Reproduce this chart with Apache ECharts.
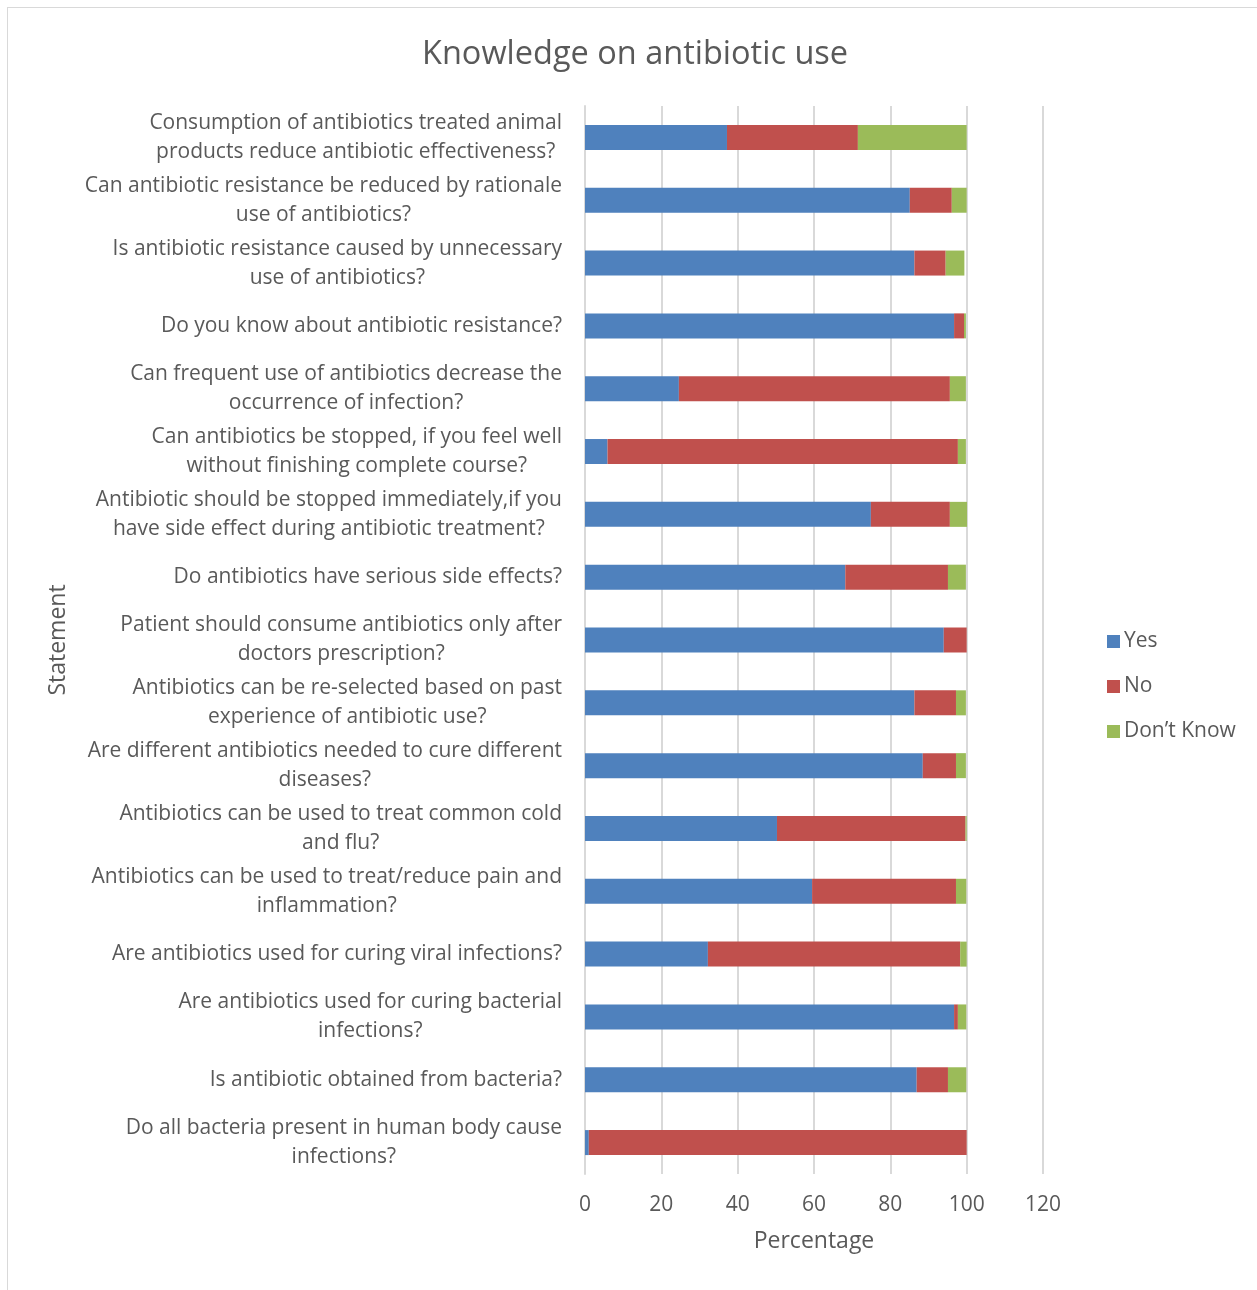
<!DOCTYPE html>
<html>
<head>
<meta charset="utf-8">
<script src="https://cdn.jsdelivr.net/npm/echarts@6/dist/echarts.min.js"></script>
<style>
  html, body { margin: 0; padding: 0; background: #fff; }
  #frame { position: absolute; left: 7px; top: 7px; width: 1260px; height: 1290px; border: 1px solid #d9d9d9; box-sizing: border-box; }
  #chart { position: absolute; left: 0; top: 0; width: 1257px; height: 1290px; }
</style>
</head>
<body>
<div id="frame"></div>
<div id="chart"></div>
<script>
// Statements, listed top to bottom
const statements = [
  'Consumption of antibiotics treated animal\nproducts reduce antibiotic effectiveness?',
  'Can antibiotic resistance be reduced by rationale\nuse of antibiotics?',
  'Is antibiotic resistance caused by unnecessary\nuse of antibiotics?',
  'Do you know about antibiotic resistance?',
  'Can frequent use of antibiotics decrease the\noccurrence of infection?',
  'Can antibiotics be stopped, if you feel well\nwithout finishing complete course?',
  'Antibiotic should be stopped immediately,if you\nhave side effect during antibiotic treatment?',
  'Do antibiotics have serious side effects?',
  'Patient should consume antibiotics only after\ndoctors prescription?',
  'Antibiotics can be re-selected based on past\nexperience of antibiotic use?',
  'Are different antibiotics needed to cure different\ndiseases?',
  'Antibiotics can be used to treat common cold\nand flu?',
  'Antibiotics can be used to treat/reduce pain and\ninflammation?',
  'Are antibiotics used for curing viral infections?',
  'Are antibiotics used for curing bacterial\ninfections?',
  'Is antibiotic obtained from bacteria?',
  'Do all bacteria present in human body cause\ninfections?'
];

// Percentage of responses per statement
const yesValues  = [37.2, 85.1, 86.3, 96.7, 24.6, 5.9, 74.9, 68.2, 94.0, 86.3, 88.5, 50.3, 59.5, 32.2, 96.7, 86.9, 1.0];
const noValues   = [34.3, 11.0, 8.2, 2.6, 71.0, 91.8, 20.7, 26.9, 6.0, 10.9, 8.7, 49.4, 37.7, 66.1, 1.0, 8.2, 99.0];
const dontKnowValues = [28.5, 3.9, 4.9, 0.5, 4.2, 2.1, 4.5, 4.7, 0.0, 2.6, 2.6, 0.3, 2.7, 1.7, 2.2, 4.8, 0.0];

const xTicks = [0, 20, 40, 60, 80, 100, 120];

const fontFamily = '"Open Sans", "Noto Sans", sans-serif';
const textColor = '#595959';

const chart = echarts.init(document.getElementById('chart'), null, { renderer: 'canvas' });

function barSeries(name, data, color) {
  return {
    name: name,
    type: 'bar',
    stack: 'total',
    barWidth: 25,
    data: data,
    itemStyle: { color: color },
    emphasis: { disabled: true }
  };
}

chart.setOption({
  animation: false,
  textStyle: { fontFamily: fontFamily, color: textColor },
  title: {
    text: 'Knowledge on antibiotic use',
    left: 422,
    top: 38,
    padding: 0,
    textStyle: { fontFamily: fontFamily, fontSize: 32.5, fontWeight: 'normal', color: textColor }
  },
  legend: {
    orient: 'vertical',
    left: 1102,
    top: 626,
    itemWidth: 13,
    itemHeight: 13,
    itemGap: 24,
    icon: 'rect',
    textStyle: { fontFamily: fontFamily, fontSize: 21, color: textColor, padding: [0, 0, 0, -1] },
    data: ['Yes', 'No', 'Don\u2019t Know']
  },
  grid: { left: 585, right: 214, top: 106, bottom: 116, containLabel: false },
  xAxis: {
    type: 'value',
    min: xTicks[0],
    max: xTicks[xTicks.length - 1],
    interval: 20,
    name: 'Percentage',
    nameLocation: 'middle',
    nameGap: 56,
    nameTextStyle: { fontFamily: fontFamily, fontSize: 23, color: textColor },
    axisLine: { show: false },
    axisTick: { show: false },
    axisLabel: { fontFamily: fontFamily, fontSize: 21, color: textColor, margin: 21 },
    splitLine: { show: true, lineStyle: { color: '#d9d9d9', width: 2 } }
  },
  yAxis: {
    type: 'category',
    inverse: true,
    data: statements,
    name: 'Statement',
    nameLocation: 'middle',
    nameRotate: 90,
    nameGap: 515,
    nameTextStyle: { fontFamily: fontFamily, fontSize: 23, color: textColor },
    axisLine: { show: true, lineStyle: { color: '#d9d9d9', width: 2 } },
    axisTick: { show: false },
    axisLabel: {
      margin: 23,
      align: 'right',
      // each line of a statement is centred within its label block
      formatter: function (value) {
        return value.split('\n').map(function (line) { return '{c|' + line + '}'; }).join('\n');
      },
      rich: {
        c: { fontFamily: fontFamily, fontSize: 21, color: textColor, lineHeight: 29, align: 'center' }
      }
    }
  },
  series: [
    barSeries('Yes', yesValues, '#4f81bd'),
    barSeries('No', noValues, '#c0504d'),
    barSeries('Don\u2019t Know', dontKnowValues, '#9bbb59')
  ]
});
</script>
</body>
</html>
